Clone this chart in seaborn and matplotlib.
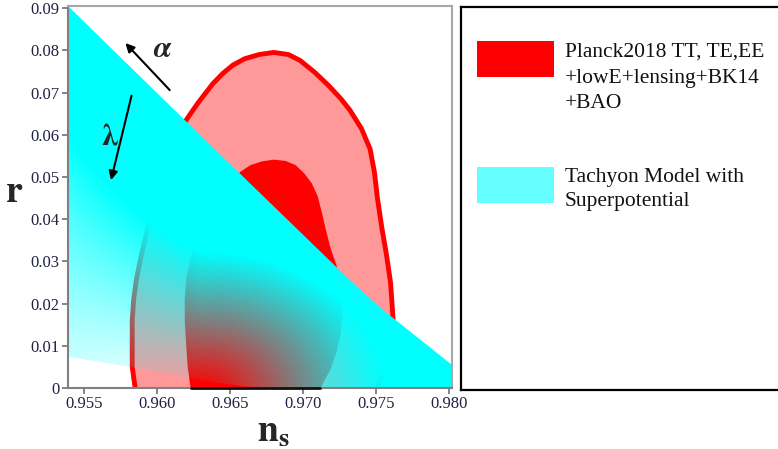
import numpy as np
import matplotlib
matplotlib.use('Agg')
import matplotlib.pyplot as plt
import seaborn as sns
from matplotlib.patches import Polygon, Rectangle

# ===== data =====
# Planck 2018 contours (n_s, r), outer = 95%, inner = 68%
outer_ns = [0.9585, 0.9583, 0.9583, 0.9583, 0.9584, 0.9586, 0.9589, 0.9593, 0.9597,
            0.9602, 0.9608, 0.9614, 0.9620, 0.9628, 0.9638, 0.9645, 0.9652, 0.9660,
            0.9670, 0.9680, 0.9690, 0.9698, 0.9708, 0.9718, 0.9726, 0.9732, 0.9740,
            0.9746, 0.9749, 0.9751, 0.9754, 0.9757, 0.9760, 0.9761, 0.9762, 0.9761,
            0.9758, 0.9755, 0.9751]
outer_r = [0.0, 0.0050, 0.0100, 0.0160, 0.0210, 0.0260, 0.0310, 0.0370, 0.0430,
           0.0486, 0.0545, 0.0600, 0.0635, 0.0675, 0.0720, 0.0745, 0.0765, 0.0780,
           0.0790, 0.0795, 0.0790, 0.0776, 0.0748, 0.0715, 0.0685, 0.0659, 0.0615,
           0.0566, 0.0510, 0.0450, 0.0380, 0.0320, 0.0250, 0.0200, 0.0150, 0.0100,
           0.0060, 0.0030, 0.0]
inner_ns = [0.9623, 0.9621, 0.9620, 0.9619, 0.9619, 0.9620, 0.9623, 0.9628, 0.9635,
            0.9643, 0.9650, 0.9657, 0.9664, 0.9672, 0.9680, 0.9688, 0.9695, 0.9701,
            0.9706, 0.9710, 0.9713, 0.9716, 0.9719, 0.9723, 0.9726, 0.9727, 0.9726,
            0.9723, 0.9719, 0.9712]
inner_r = [0.0, 0.0050, 0.0100, 0.0160, 0.0210, 0.0260, 0.0310, 0.0360, 0.0400,
           0.0445, 0.0485, 0.0512, 0.0528, 0.0537, 0.0541, 0.0538, 0.0528, 0.0508,
           0.0485, 0.0455, 0.0415, 0.0370, 0.0330, 0.0290, 0.0240, 0.0180, 0.0130,
           0.0085, 0.0045, 0.0]

# tachyon model region (upper edge and lower edge)
tachyon_top_ns = [0.9539, 0.9621, 0.9732, 0.9753, 0.9802]
tachyon_top_r = [0.0905, 0.0628, 0.0256, 0.0190, 0.0055]
tachyon_bot_ns = [0.9802, 0.9680, 0.9660, 0.9640, 0.9620, 0.9600, 0.9580, 0.9560, 0.9539]
tachyon_bot_r = [0.0, 0.0, 0.0004, 0.0013, 0.0025, 0.0038, 0.0051, 0.0062, 0.0074]

x_ticks = [0.955, 0.960, 0.965, 0.970, 0.975, 0.980]
x_tick_labels = ['0.955', '0.960', '0.965', '0.970', '0.975', '0.980']
y_ticks = [0, 0.01, 0.02, 0.03, 0.04, 0.05, 0.06, 0.07, 0.08, 0.09]
y_tick_labels = ['0', '0.01', '0.02', '0.03', '0.04', '0.05', '0.06', '0.07', '0.08', '0.09']

planck_label = ['Planck2018 TT, TE,EE', '+lowE+lensing+BK14', '+BAO']
tachyon_label = ['Tachyon Model with', 'Superpotential']

# arrows (start, end) and their letters
alpha_arrow = [(0.9610, 0.0701), (0.9577, 0.0822)]
lambda_arrow = [(0.9583, 0.0699), (0.9568, 0.0486)]
alpha_pos = (0.9604, 0.0801)
lambda_pos = (0.9568, 0.0595)

xlim = (0.9539, 0.98021)
ylim = (0.0, 0.0905)

# ===== style =====
sns.set_theme(style='white')
plt.rcParams['font.family'] = ['Liberation Serif', 'DejaVu Serif']
plt.rcParams['mathtext.fontset'] = 'stix'

fig = plt.figure(figsize=(7.78, 4.49), dpi=100)
ax = fig.add_axes([68 / 778, 61 / 449, 384 / 778, 382 / 449])

# ===== Planck contours =====
ax.fill(outer_ns, outer_r, color='#FF9999', lw=0, zorder=1)
ax.fill(inner_ns, inner_r, color='#FF0000', lw=0, zorder=2)
sns.lineplot(x=outer_ns, y=outer_r, sort=False, estimator=None, color='#FF0000',
             lw=3.5, ax=ax, zorder=3)
# dark base of the inner contour on the axis
ax.plot([inner_ns[0], inner_ns[-1]], [inner_r[0], inner_r[-1]], color='#111111',
        lw=2, clip_on=False, zorder=8)

# ===== tachyon region: cyan with an alpha gradient =====
gx = np.linspace(xlim[0], xlim[1], 500)
gy = np.linspace(ylim[0], ylim[1], 500)
GX, GY = np.meshgrid(gx, gy)
px_per_x = 384 / (xlim[1] - xlim[0])
px_per_y = 382 / (ylim[1] - ylim[0])
cx, cy = 0.9630, -0.0017   # centre of the transparent spot
dx = (GX - cx) * px_per_x
left = np.clip(-dx / 132, 0, 1)          # 0 at the centre, 1 at the left edge
dx = np.where(dx < 0, dx * 0.3, dx)
dy = (GY - cy) * px_per_y * (1.3 - 0.6 * left)
d = np.hypot(dx, dy)
alpha = np.clip(0.08 + (d - 20) / 180, 0.03, 1.0)
img = np.zeros(GX.shape + (4,))
img[..., 1] = 1.0
img[..., 2] = 1.0
img[..., 3] = alpha
im = ax.imshow(img, extent=[xlim[0], xlim[1], ylim[0], ylim[1]], origin='lower',
               aspect='auto', interpolation='bilinear', zorder=4)
poly_pts = list(zip(tachyon_top_ns, tachyon_top_r)) + list(zip(tachyon_bot_ns, tachyon_bot_r))
clip_poly = Polygon(poly_pts, closed=True, transform=ax.transData, facecolor='none',
                    edgecolor='none')
ax.add_patch(clip_poly)
im.set_clip_path(clip_poly)

# ===== arrows and greek letters =====
ax.annotate('', xy=alpha_arrow[1], xytext=alpha_arrow[0],
            arrowprops=dict(arrowstyle='-|>', color='black', lw=1.5, mutation_scale=13),
            zorder=6)
ax.annotate('', xy=lambda_arrow[1], xytext=lambda_arrow[0],
            arrowprops=dict(arrowstyle='-|>', color='black', lw=1.5, mutation_scale=13),
            zorder=6)
ax.text(*alpha_pos, r'$\boldsymbol{\alpha}$', fontsize=22, ha='center', va='center', zorder=6)
ax.text(*lambda_pos, r'$\boldsymbol{\lambda}$', fontsize=22, ha='center', va='center', zorder=6)

# ===== axes =====
ax.set_xlim(*xlim)
ax.set_ylim(*ylim)
ax.set_xticks(x_ticks)
ax.set_xticklabels(x_tick_labels)
ax.set_yticks(y_ticks)
ax.set_yticklabels(y_tick_labels)
ax.tick_params(axis='both', direction='out', length=4, width=1.2, color='#707070',
               labelsize=12, labelcolor='#1f2240', pad=2, bottom=True, left=True)
for side, sp in ax.spines.items():
    sp.set_visible(True)
    sp.set_color('#808080' if side in ('left', 'bottom') else '#A8A8A8')
    sp.set_linewidth(1.5)
    sp.set_zorder(7)
ax.grid(False)

fig.text(14 / 778, 1 - 202 / 449, r'$\mathbf{r}$', fontsize=27, ha='center', va='baseline')
fig.text(273 / 778, 1 - 441 / 449, r'$\mathbf{n_s}$', fontsize=27, ha='center', va='baseline')

# ===== legend box =====
lax = fig.add_axes([461 / 778, 59 / 449, 1.0, 383 / 449])
lax.set_xlim(461, 461 + 778)
lax.set_ylim(390, 7)
lax.set_xticks([])
lax.set_yticks([])
lax.set_facecolor('white')
for sp in lax.spines.values():
    sp.set_color('black')
    sp.set_linewidth(1.6)
lax.add_patch(Rectangle((477, 41), 77, 36, color='#FF0000', lw=0))
lax.add_patch(Rectangle((477, 167), 77, 36, color='#66FFFF', lw=0))
for i, line in enumerate(planck_label):
    lax.text(565, 57 + i * 25.5, line, fontsize=15.5, va='baseline', ha='left', color='#111111')
for i, line in enumerate(tachyon_label):
    lax.text(565, 182 + i * 24, line, fontsize=15.5, va='baseline', ha='left', color='#111111')

fig.savefig('out.png', dpi=100)
